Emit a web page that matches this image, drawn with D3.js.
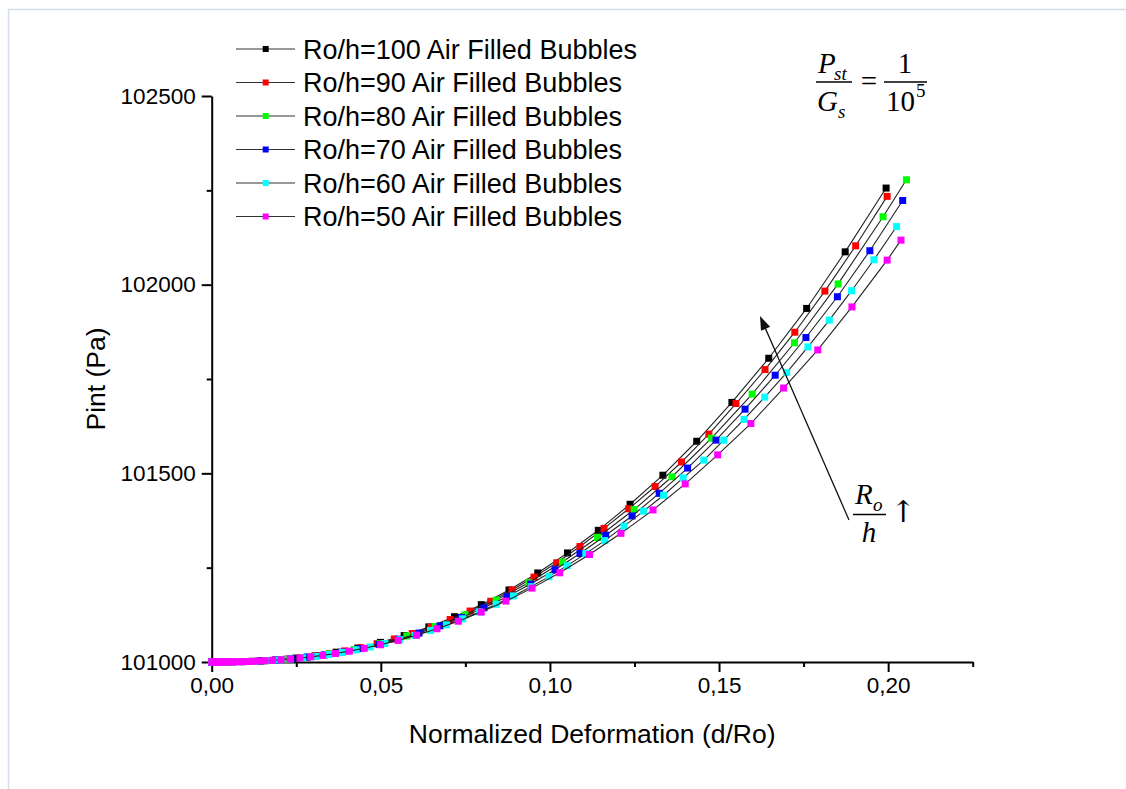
<!DOCTYPE html>
<html><head><meta charset="utf-8">
<script src="https://cdn.jsdelivr.net/npm/d3@7"></script>
<style>body{margin:0;background:#fff} svg{display:block}</style>
</head><body><svg id="c" width="1126" height="789"></svg>
<script>
// ---- data ----
const xTicks = [0, 0.05, 0.10, 0.15, 0.20];
const xMinorTicks = [0.025, 0.075, 0.125, 0.175, 0.225];
const yTicks = [101000, 101500, 102000, 102500];
const yMinorTicks = [101250, 101750, 102250];
const seriesNames = ["Ro/h=100 Air Filled Bubbles","Ro/h=90 Air Filled Bubbles","Ro/h=80 Air Filled Bubbles","Ro/h=70 Air Filled Bubbles","Ro/h=60 Air Filled Bubbles","Ro/h=50 Air Filled Bubbles"];
const seriesColors = ["#000000","#ff0000","#00ff00","#0000ff","#00ffff","#ff00ff"];

const ro100 = [[0,101000],[0.0047,101000.2],[0.0093,101001.1],[0.0142,101002.9],[0.0194,101005.9],[0.0249,101010.5],[0.0307,101017],[0.0368,101026],[0.0432,101037],[0.0499,101052],[0.0569,101070],[0.0642,101093],[0.0718,101120],[0.0797,101152],[0.0879,101191],[0.0964,101236],[0.1052,101289],[0.1143,101349],[0.1237,101418],[0.1334,101495],[0.1434,101585],[0.1538,101688],[0.1647,101805],[0.1759,101937],[0.1873,102087],[0.1994,102256]];
const ro90 = [[0,101000],[0.0033,101000.1],[0.0060,101000.4],[0.0089,101000.9],[0.0120,101001.9],[0.0153,101003.3],[0.0188,101005.4],[0.0225,101008.1],[0.0264,101011.7],[0.0305,101016.4],[0.0348,101022.2],[0.0393,101029.3],[0.0440,101038],[0.0489,101048.5],[0.0540,101061],[0.0593,101075.5],[0.0648,101092.6],[0.0705,101112.5],[0.0764,101135],[0.0825,101161],[0.0888,101191],[0.0953,101225],[0.1020,101263],[0.1089,101306],[0.1160,101354],[0.1233,101406],[0.1311,101465],[0.1389,101530],[0.1470,101604],[0.1550,101685],[0.1636,101775],[0.1724,101874],[0.1813,101983],[0.1904,102103],[0.1997,102234]];
const ro80 = [[0,101000],[0.0049,101000.3],[0.0101,101001.3],[0.0157,101003.4],[0.0217,101007],[0.0281,101013],[0.0349,101022],[0.0421,101033],[0.0497,101049],[0.0577,101069],[0.0661,101094],[0.0749,101125],[0.0841,101164],[0.0937,101210],[0.1037,101265],[0.1141,101330],[0.1249,101404],[0.1361,101491],[0.1478,101593],[0.1598,101710],[0.1723,101846],[0.1852,102002],[0.1985,102180],[0.2054,102278]];
const ro70 = [[0,101000],[0.0025,101000.1],[0.0063,101000.4],[0.0103,101001.3],[0.0145,101002.8],[0.0189,101005.1],[0.0235,101008.5],[0.0283,101013],[0.0333,101018.9],[0.0385,101026.3],[0.0439,101035.6],[0.0495,101046.9],[0.0553,101060.5],[0.0613,101076.7],[0.0675,101095.8],[0.0739,101118],[0.0805,101143.5],[0.0873,101173],[0.0943,101206.5],[0.1015,101244.6],[0.1089,101287.5],[0.1165,101336],[0.1243,101387],[0.1323,101447],[0.1407,101514],[0.1491,101588],[0.1577,101670],[0.1666,101760],[0.1757,101860],[0.1850,101968],[0.1946,102090],[0.2043,102223]];
const ro60 = [[0,101000],[0.0031,101000.1],[0.0062,101000.4],[0.0094,101001],[0.0127,101002],[0.0161,101003.4],[0.0196,101005.4],[0.0232,101007.9],[0.0269,101011.1],[0.0307,101015.1],[0.0346,101019.8],[0.0386,101025.5],[0.0427,101032.2],[0.0469,101039.9],[0.0512,101048.9],[0.0556,101059.1],[0.0601,101070.6],[0.0647,101083.7],[0.0694,101098.3],[0.0742,101114.6],[0.0791,101132.8],[0.0841,101153],[0.0892,101175.1],[0.0944,101199.4],[0.0997,101226.2],[0.1051,101255.4],[0.1106,101287.2],[0.1162,101321.7],[0.1219,101360],[0.1277,101400],[0.1336,101442],[0.1394,101488],[0.1455,101535],[0.1514,101588],[0.1574,101643],[0.1635,101702],[0.1700,101767],[0.1763,101835],[0.1826,101906],[0.1892,101984],[0.1958,102066],[0.2025,102154]];
const ro50 = [[0,101000],[0.0004,101000],[0.0008,101000],[0.0013,101000],[0.0018,101000],[0.0024,101000.1],[0.0030,101000.1],[0.0037,101000.1],[0.0045,101000.2],[0.0054,101000.3],[0.0064,101000.5],[0.0075,101000.6],[0.0088,101000.9],[0.0103,101001.3],[0.0120,101001.8],[0.0138,101002.5],[0.0158,101003.4],[0.0180,101004.5],[0.0205,101006.1],[0.0232,101008],[0.0261,101010.5],[0.0293,101013.7],[0.0328,101017.6],[0.0366,101022.6],[0.0407,101028.8],[0.0451,101036.3],[0.0499,101045.7],[0.0551,101057.3],[0.0606,101071.1],[0.0666,101088.1],[0.0729,101108.1],[0.0797,101132.3],[0.0870,101161.5],[0.0947,101195.8],[0.1029,101236.4],[0.1117,101284.8],[0.1210,101341],[0.1305,101403],[0.1400,101472],[0.1496,101549],[0.1594,101632],[0.1691,101726],[0.1792,101827],[0.1893,101941],[0.1997,102065],[0.2038,102118]];
const allSeries = [ro100, ro90, ro80, ro70, ro60, ro50];

// ---- drawing ----
const svg = d3.select("#c");
const SANS = "'Liberation Sans', Arial, sans-serif";
const SERIF = "'Liberation Serif', 'Times New Roman', serif";

// light frame
svg.append("path").attr("d","M8.5,789 V9.5 H1126").attr("fill","none").attr("stroke","#d3deea").attr("stroke-width",1.5);

const x = d3.scaleLinear().domain([0, 0.225]).range([211.7, 972.7]);
const y = d3.scaleLinear().domain([101000, 102500]).range([662, 96]);

const fmtX = d => d3.format(".2f")(d).replace(".", ",");

// x axis
const gx = svg.append("g").attr("transform", `translate(0,${y(101000)})`);
gx.call(d3.axisBottom(x).tickValues(xTicks).tickSizeInner(10).tickSizeOuter(0).tickPadding(5).tickFormat(fmtX));
gx.append("g").call(d3.axisBottom(x).tickValues(xMinorTicks).tickSize(5).tickFormat(""))
  .select(".domain").remove();
// y axis
const gy = svg.append("g").attr("transform", `translate(${x(0)},0)`);
gy.call(d3.axisLeft(y).tickValues(yTicks).tickSizeInner(10).tickSizeOuter(0).tickPadding(6).tickFormat(d3.format("d")));
gy.append("g").call(d3.axisLeft(y).tickValues(yMinorTicks).tickSize(5).tickFormat(""))
  .select(".domain").remove();

svg.selectAll(".domain").attr("stroke","#000").attr("stroke-width",2);
svg.selectAll(".tick line").attr("stroke","#000").attr("stroke-width",2);
svg.selectAll(".tick text").attr("font-family",SANS).attr("font-size",22.5).attr("fill","#000");

// axis titles
svg.append("text").attr("x", (x(0)+x(0.225))/2).attr("y", 743).attr("text-anchor","middle")
  .attr("font-family",SANS).attr("font-size",26.5).text("Normalized Deformation (d/Ro)");
svg.append("text").attr("transform", `translate(105,${(y(101000)+y(102500))/2}) rotate(-90)`).attr("text-anchor","middle")
  .attr("font-family",SANS).attr("font-size",26.5).text("Pint (Pa)");

// series
const line = d3.line().x(d => x(d[0])).y(d => y(d[1]));
const ms = 7;
allSeries.forEach((data, i) => {
  const g = svg.append("g");
  g.append("path").attr("d", line(data)).attr("fill","none").attr("stroke","#222").attr("stroke-width",1.1);
  g.selectAll("rect").data(data).join("rect")
    .attr("x", d => x(d[0]) - ms/2).attr("y", d => y(d[1]) - ms/2)
    .attr("width", ms).attr("height", ms).attr("fill", seriesColors[i]);
});

// legend
const leg = svg.append("g");
seriesNames.forEach((name, i) => {
  const ly = 49 + i * 33.5;
  leg.append("line").attr("x1",236).attr("x2",295).attr("y1",ly).attr("y2",ly).attr("stroke","#333").attr("stroke-width",1.1);
  leg.append("rect").attr("x",265.7-3).attr("y",ly-3).attr("width",6).attr("height",6).attr("fill",seriesColors[i]);
  leg.append("text").attr("x",303).attr("y",ly+9.5).attr("font-family",SANS).attr("font-size",27).text(name);
});

// formula Pst/Gs = 1/10^5
const f = svg.append("g").attr("font-family",SERIF).attr("font-style","italic").attr("fill","#000");
f.append("text").attr("x",818).attr("y",73).attr("font-size",29).text("P");
f.append("text").attr("x",834).attr("y",80).attr("font-size",19).text("st");
f.append("line").attr("x1",816).attr("x2",852).attr("y1",82).attr("y2",82).attr("stroke","#000").attr("stroke-width",1.5);
f.append("text").attr("x",817).attr("y",111).attr("font-size",29).text("G");
f.append("text").attr("x",838).attr("y",118).attr("font-size",19).text("s");
f.append("text").attr("x",869).attr("y",91).attr("font-size",29).attr("font-style","normal").attr("text-anchor","middle").text("=");
f.append("text").attr("x",905).attr("y",73).attr("font-size",29).attr("font-style","normal").attr("text-anchor","middle").text("1");
f.append("line").attr("x1",884).attr("x2",927).attr("y1",82).attr("y2",82).attr("stroke","#000").attr("stroke-width",1.5);
f.append("text").attr("x",886).attr("y",111).attr("font-size",29).attr("font-style","normal").text("10");
f.append("text").attr("x",916).attr("y",97).attr("font-size",19).attr("font-style","normal").text("5");

// arrow
const ax1 = 849, ay1 = 520, ax2 = 760, ay2 = 316;
const ang = Math.atan2(ay2-ay1, ax2-ax1);
const hl = 14, hw = 5;
svg.append("line").attr("x1",ax1).attr("y1",ay1).attr("x2",ax2 - Math.cos(ang)*6).attr("y2",ay2 - Math.sin(ang)*6).attr("stroke","#111").attr("stroke-width",1.3);
const bx = ax2 - Math.cos(ang)*hl, by = ay2 - Math.sin(ang)*hl;
svg.append("path").attr("d", `M${ax2},${ay2} L${bx - Math.sin(ang)*hw},${by + Math.cos(ang)*hw} L${bx + Math.sin(ang)*hw},${by - Math.cos(ang)*hw} Z`).attr("fill","#111");

// Ro/h label
const r = svg.append("g").attr("font-family",SERIF).attr("font-style","italic").attr("fill","#000");
r.append("text").attr("x",855).attr("y",504).attr("font-size",29).text("R");
r.append("text").attr("x",873).attr("y",511).attr("font-size",19).text("o");
r.append("line").attr("x1",853).attr("x2",886).attr("y1",514.5).attr("y2",514.5).attr("stroke","#000").attr("stroke-width",1.5);
r.append("text").attr("x",869).attr("y",542).attr("font-size",29).attr("text-anchor","middle").text("h");
svg.append("text").attr("x",903).attr("y",522).attr("font-family","'DejaVu Serif', serif").attr("font-size",30).attr("fill","#000").attr("text-anchor","middle").text("\u2191");
</script>
</body></html>
